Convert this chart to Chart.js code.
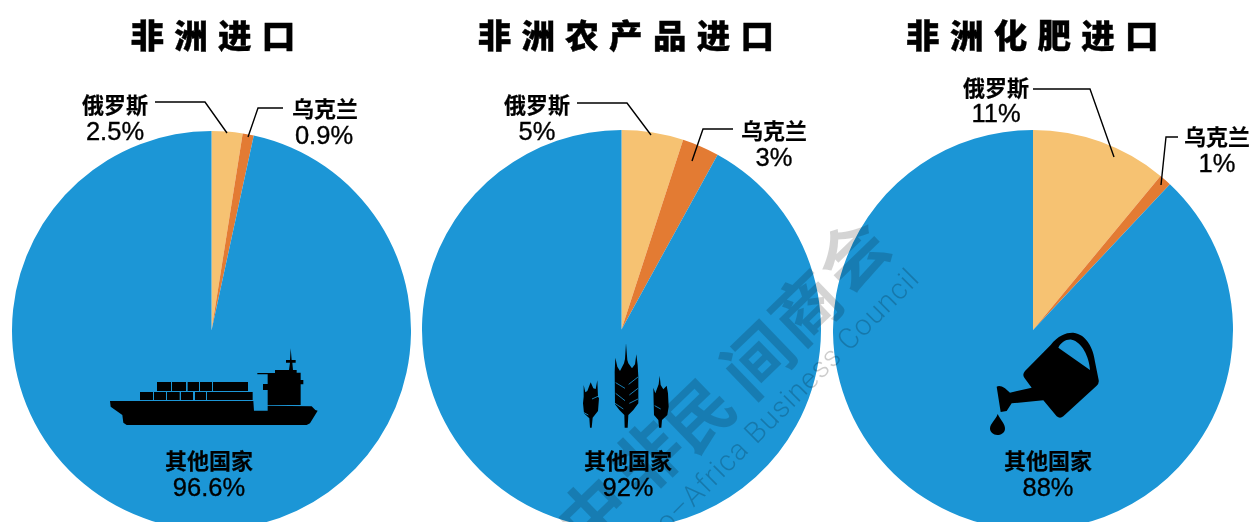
<!DOCTYPE html>
<html lang="zh">
<head>
<meta charset="utf-8">
<script src="https://cdn.jsdelivr.net/npm/chart.js@4"></script>
<style>
html,body{margin:0;padding:0;background:#fff;}
#stage{position:relative;width:1252px;height:522px;overflow:hidden;background:#fff;}
canvas{position:absolute;}
.t{position:absolute;transform:translate(-50%,-50%);white-space:nowrap;color:#000;line-height:1;z-index:3;}
.title{font:900 33.5px "Noto Sans CJK SC";letter-spacing:10.3px;margin-left:5px;color:#000;-webkit-text-stroke:.4px #000;}
.cat{font:700 22px "Noto Sans CJK SC";-webkit-text-stroke:.2px #000;}
.pct{font:400 25.5px "Liberation Sans";-webkit-text-stroke:.35px #000;}
svg{position:absolute;left:0;top:0;z-index:2;}
.wm{position:absolute;transform-origin:0 0;white-space:nowrap;z-index:4;line-height:1;}
</style>
</head>
<body>
<div id="stage">
<svg width="1252" height="522" viewBox="0 0 1252 522">
  <g fill="none" stroke="#000" stroke-width="1.4">
    <polyline points="155,102 205,102 227,133"/>
    <polyline points="283,108 258,108 248,137"/>
    <polyline points="577,103 627,103 651,135"/>
    <polyline points="733,129 703,129 692,161"/>
    <polyline points="1033,89 1090,89 1114,157"/>
    <polyline points="1178,137 1166,137 1161,185"/>
  </g>
  <!-- ship -->
  <g transform="translate(90 340) scale(.33333)" fill="#000">
    <path d="M60,183 L490,183 L492,212 L533,212 L533,197 L665,199 L676,210 L683,212 L660,250 L650,255 L110,255 L100,248 L97,225 L62,200 Z"/>
    <path d="M533,197 V150 H519 V132 H533 V103 H502 V99 H555 V90 H597 L600,68 H588 V60 H600 L602,25 L605,60 H617 V68 H607 L609,90 H620 V98 H632 V120 H640 V133 H632 V195 H533 Z"/>
    <rect x="201" y="126" width="42" height="27"/><rect x="246" y="126" width="42" height="27"/>
    <rect x="293" y="126" width="34" height="27"/><rect x="330" y="126" width="36" height="27"/>
    <rect x="369" y="126" width="105" height="27"/>
    <rect x="150" y="156" width="39" height="24"/><rect x="192" y="156" width="36" height="24"/>
    <rect x="231" y="156" width="38" height="24"/><rect x="273" y="156" width="36" height="24"/>
    <rect x="315" y="156" width="33" height="24"/><rect x="351" y="156" width="137" height="24"/>
  </g>
  <!-- wheat -->
  <g transform="translate(570 335) scale(.33333)">
    <path fill="#000" d="M168,25 L172,75 L175,85 L186,100 L195,88 L199,58 L203,90 L205,125 L205,205 L190,225 L175,240 L173,278 L164,278 L163,240 L148,225 L135,208 L134,110 L136,68 L142,95 L150,108 L162,85 L165,72 Z"/>
    <g fill="none" stroke="#1c96d6" stroke-width="2.5">
      <path d="M137,143 L165,160 M137,175 L165,197 M135,205 L160,222"/>
      <path d="M204,126 L176,148 M204,160 L178,180 M204,192 L178,205"/>
    </g>
    <path fill="#000" d="M41,150 L46,172 L52,168 L62,142 L70,160 L77,162 L82,136 L84,185 L87,190 L84,228 L68,248 L65,278 L60,278 L58,250 L42,235 L39,205 L41,185 Z"/>
    <path fill="none" stroke="#1c96d6" stroke-width="2.5" d="M66,192 L84,184 M40,232 L55,240"/>
    <path fill="#000" d="M269,122 L272,150 L280,163 L290,152 L294,175 L296,215 L292,240 L276,255 L274,278 L267,278 L265,255 L252,240 L251,205 L250,158 L256,175 L266,148 Z"/>
    <path fill="none" stroke="#1c96d6" stroke-width="2.5" d="M254,212 L272,222"/>
  </g>
  <!-- watering can -->
  <g transform="translate(980 325) scale(.33333)" fill="#000">
    <path fill-rule="evenodd" d="M212,60 C235,30 260,22 280,23 C320,28 340,70 345,110 L356,165 Q358,175 350,182 L250,274 Q240,282 230,274 L190,226 L95,235 L80,258 L62,261 L50,185 Q60,180 75,190 L90,203 L155,188 L133,158 Q126,148 135,138 Z M235,68 L330,135 C328,95 305,50 275,44 C258,42 243,52 235,68 Z"/>
    <path d="M53,267 C62,285 76,298 75,312 C74,324 62,330 52,330 C40,330 30,322 30,310 C31,295 47,285 53,267 Z"/>
  </g>
</svg>
</div>
<script>
const sliceNames = ['俄罗斯', '乌克兰', '其他国家'];
const sliceColors = ['#f6c272', '#e37b33', '#1c96d6'];
const chartTitles = ['非洲进口', '非洲农产品进口', '非洲化肥进口'];
const importsAll = [2.5, 0.9, 96.6];
const importsFarm = [5, 3, 92];
const importsFert = [11, 1, 88];
const pctTexts = [['2.5%', '0.9%', '96.6%'], ['5%', '3%', '92%'], ['11%', '1%', '88%']];

const pies = [
  {data: importsAll, cx: 211, cy: 330, r: 199.5},
  {data: importsFarm, cx: 621.5, cy: 329.5, r: 199.5},
  {data: importsFert, cx: 1033, cy: 329.5, r: 200}
];
const titleCenters = [[213, 33], [626, 33], [1032.5, 33]];
const labelPos = [
  [[115, 103, 115, 131], [325, 107, 324, 135], [209, 459, 209, 487]],
  [[537, 103, 537, 131], [774, 129, 774, 157], [628, 459, 628, 487]],
  [[996, 86, 996, 113], [1217, 135, 1217, 163], [1048, 459, 1048, 487]]
];

const stage = document.getElementById('stage');
function addText(txt, cls, x, y) {
  const d = document.createElement('div');
  d.className = 't ' + cls;
  d.textContent = txt;
  d.style.left = x + 'px';
  d.style.top = y + 'px';
  stage.appendChild(d);
}
pies.forEach((p, i) => {
  const c = document.createElement('canvas');
  const size = Math.round(p.r * 2);
  c.width = size; c.height = size;
  c.style.left = (p.cx - size / 2) + 'px';
  c.style.top = (p.cy - size / 2) + 'px';
  c.style.width = size + 'px'; c.style.height = size + 'px';
  stage.insertBefore(c, stage.firstChild);
  new Chart(c, {
    type: 'pie',
    data: {labels: sliceNames, datasets: [{data: p.data, backgroundColor: sliceColors, borderWidth: 0, hoverOffset: 0}]},
    options: {
      responsive: false, animation: false, devicePixelRatio: 1,
      layout: {padding: 0},
      plugins: {legend: {display: false}, tooltip: {enabled: false}, title: {display: false}}
    }
  });
  addText(chartTitles[i], 'title', titleCenters[i][0], titleCenters[i][1]);
  sliceNames.forEach((n, j) => {
    const q = labelPos[i][j];
    addText(n, 'cat', q[0], q[1]);
    addText(pctTexts[i][j], 'pct', q[2], q[3]);
  });
});

// watermark
const wmCn = '中非民间商会';
const wmEn = 'Sino–Africa Business Council';
const wmChars = [[590, 510], [645, 455], [696, 412], [755, 357], [803, 305], [850, 252]];
[...wmCn].forEach((ch, i) => {
  const d = document.createElement('div');
  d.className = 't';
  d.textContent = ch;
  d.style.cssText += 'left:' + wmChars[i][0] + 'px;top:' + wmChars[i][1] + 'px;font:700 68px "Noto Sans CJK SC";color:rgba(0,0,0,.17);z-index:4;transform:translate(-50%,-50%) rotate(-44deg);';
  stage.appendChild(d);
});
const e = document.createElement('div');
e.className = 'wm';
e.textContent = wmEn;
e.style.cssText += 'left:618px;top:545px;font:300 29px Roboto;letter-spacing:1px;color:rgba(0,0,0,.2);transform:rotate(-45deg);';
stage.appendChild(e);
</script>
</body>
</html>
